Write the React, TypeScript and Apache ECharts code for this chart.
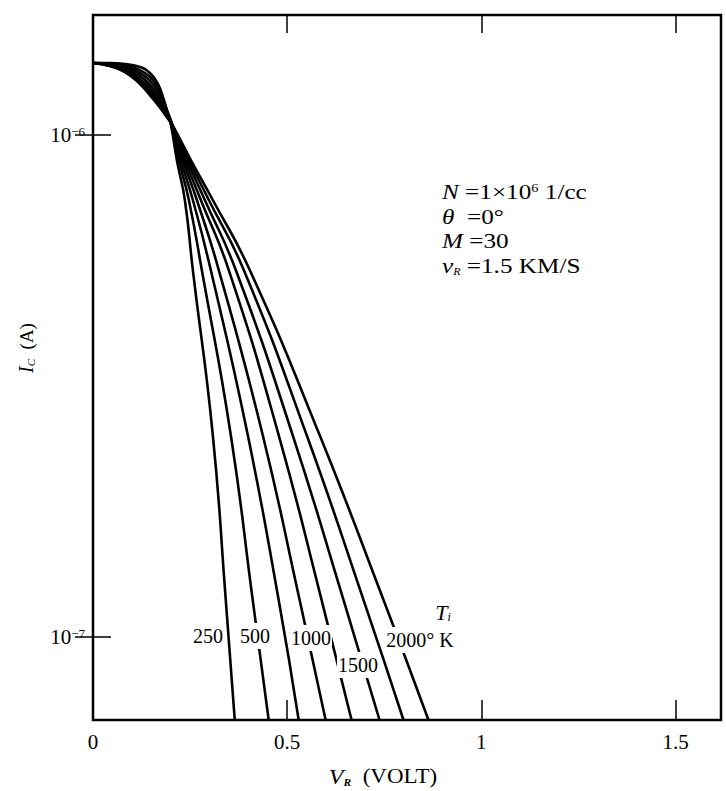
import React, { useEffect, useRef } from "react";
import * as echarts from "echarts";

// Temperatures (°K) of the eight curves
const temperatures = [250, 500, 750, 1000, 1250, 1500, 1750, 2000];

// [V_R (volt), I_C (A)]
const curve250 = [
  [0, 1.391e-6], [0.0437, 1.391e-6], [0.0823, 1.385e-6], [0.1208, 1.366e-6], [0.1465, 1.329e-6],
  [0.1671, 1.264e-6], [0.1825, 1.174e-6], [0.1928, 1.101e-6], [0.2005, 1.052e-6], [0.2159, 8.917e-7],
  [0.2365, 7.423e-7], [0.2571, 5.383e-7], [0.3085, 2.526e-7], [0.3419, 1.185e-7], [0.365, 6.837e-8],
];
const curve500 = [
  [0, 1.391e-6], [0.0437, 1.388e-6], [0.0823, 1.375e-6], [0.1208, 1.347e-6], [0.1465, 1.305e-6],
  [0.1671, 1.246e-6], [0.1825, 1.169e-6], [0.1928, 1.101e-6], [0.2005, 1.052e-6], [0.2211, 8.917e-7],
  [0.2468, 7.423e-7], [0.2802, 5.383e-7], [0.3548, 2.526e-7], [0.4113, 1.185e-7], [0.4524, 6.837e-8],
];
const curve750 = [
  [0, 1.391e-6], [0.0437, 1.385e-6], [0.0823, 1.366e-6], [0.1208, 1.329e-6], [0.1465, 1.281e-6],
  [0.1671, 1.224e-6], [0.1825, 1.158e-6], [0.1954, 1.096e-6], [0.2031, 1.052e-6], [0.2262, 8.917e-7],
  [0.2571, 7.423e-7], [0.3033, 5.383e-7], [0.3985, 2.526e-7], [0.4781, 1.185e-7], [0.5296, 6.837e-8],
];
const curve1000 = [
  [0, 1.391e-6], [0.0437, 1.382e-6], [0.0823, 1.36e-6], [0.1208, 1.311e-6], [0.1465, 1.258e-6],
  [0.1671, 1.201e-6], [0.1825, 1.148e-6], [0.1954, 1.091e-6], [0.2031, 1.052e-6], [0.2314, 8.917e-7],
  [0.2674, 7.423e-7], [0.3239, 5.383e-7], [0.437, 2.526e-7], [0.5321, 1.185e-7], [0.599, 6.837e-8],
];
const curve1250 = [
  [0, 1.391e-6], [0.0437, 1.378e-6], [0.0823, 1.351e-6], [0.1208, 1.293e-6], [0.1465, 1.24e-6],
  [0.1671, 1.185e-6], [0.1825, 1.137e-6], [0.1954, 1.086e-6], [0.2031, 1.052e-6], [0.2365, 8.917e-7],
  [0.2776, 7.423e-7], [0.3496, 5.383e-7], [0.4781, 2.526e-7], [0.5887, 1.185e-7], [0.6658, 6.837e-8],
];
const curve1500 = [
  [0, 1.391e-6], [0.0437, 1.375e-6], [0.0823, 1.344e-6], [0.1208, 1.281e-6], [0.1465, 1.224e-6],
  [0.1671, 1.174e-6], [0.1825, 1.127e-6], [0.1954, 1.081e-6], [0.2031, 1.052e-6], [0.2416, 8.917e-7],
  [0.2879, 7.423e-7], [0.3676, 5.383e-7], [0.5141, 2.526e-7], [0.6452, 1.185e-7], [0.7378, 6.837e-8],
];
const curve1750 = [
  [0, 1.391e-6], [0.0437, 1.372e-6], [0.0823, 1.338e-6], [0.1208, 1.269e-6], [0.1465, 1.213e-6],
  [0.1671, 1.158e-6], [0.1825, 1.116e-6], [0.1954, 1.076e-6], [0.2031, 1.052e-6], [0.2468, 8.917e-7],
  [0.2982, 7.423e-7], [0.3882, 5.383e-7], [0.5501, 2.526e-7], [0.6967, 1.185e-7], [0.7995, 6.837e-8],
];
const curve2000 = [
  [0, 1.391e-6], [0.0437, 1.372e-6], [0.0823, 1.335e-6], [0.1208, 1.264e-6], [0.1465, 1.201e-6],
  [0.1671, 1.148e-6], [0.1825, 1.106e-6], [0.1954, 1.071e-6], [0.2031, 1.052e-6], [0.2519, 8.917e-7],
  [0.3085, 7.423e-7], [0.4036, 5.383e-7], [0.5835, 2.526e-7], [0.7481, 1.185e-7], [0.8638, 6.837e-8],
];
const curves = [curve250, curve500, curve750, curve1000, curve1250, curve1500, curve1750, curve2000];

// Axes
const xMin = 0;
const xMax = 1.617;
const xTickValues = [0.5, 1, 1.5];
const xLabelValues = [0, 0.5, 1, 1.5];
const yMin = 6.837e-8;
const yMax = 1.734e-6;
const yTickValues = [1e-7, 1e-6];

// Texts
const curveLabels = ["250", "500", "1000", "1500", "2000° K"];
const paramLines = [
  "{i|N} =1×10{sup|6} 1/cc",
  "{i|θ}  =0°",
  "{i|M} =30",
  "{i|v}{sub|R} =1.5 KM/S",
];

const FONT = '"Liberation Serif", "DejaVu Serif", serif';

function supLabel(v: number) {
  const e = Math.round(Math.log10(v));
  return "{b|10}{s|" + "\u2212" + String(Math.abs(e)) + "}";
}

export default function App() {
  const ref = useRef<HTMLDivElement>(null);

  useEffect(() => {
    if (!ref.current) return;
    const chart = echarts.init(ref.current, undefined, { renderer: "svg" });

    const labelPos = [
      { x: 208, y: 636 },
      { x: 255, y: 636 },
      { x: 311, y: 638 },
      { x: 358, y: 665 },
      { x: 420, y: 640 },
    ];

    const graphic: any[] = [];
    curveLabels.forEach((t, i) => {
      graphic.push({
        type: "text",
        z: 100,
        x: labelPos[i].x,
        y: labelPos[i].y,
        style: {
          text: t,
          x: 0,
          y: 0,
          align: "center",
          verticalAlign: "middle",
          fontFamily: FONT,
          fontSize: 20,
          fill: "#000",
          backgroundColor: "#fff",
          padding: [3, 1, 3, 1],
        },
      });
    });
    graphic.push({
      type: "text",
      z: 100,
      x: 443,
      y: 612,
      style: {
        text: "{t|T}{sub|i}",
        x: 0,
        y: 0,
        align: "center",
        verticalAlign: "middle",
        rich: {
          t: { fontStyle: "italic", fontFamily: FONT, fontSize: 22, fill: "#000" },
          sub: { fontStyle: "italic", fontFamily: FONT, fontSize: 12, verticalAlign: "bottom", fill: "#000" },
        },
      },
    });
    paramLines.forEach((t, i) => {
      graphic.push({
        type: "text",
        z: 100,
        x: 442,
        y: 192 + i * 24.5,
        scaleX: 1.2,
        style: {
          text: t,
          x: 0,
          y: 0,
          align: "left",
          verticalAlign: "middle",
          fontFamily: FONT,
          fontSize: 21,
          fill: "#000",
          rich: {
            i: { fontStyle: "italic", fontFamily: FONT, fontSize: 21, fill: "#000" },
            sup: { fontFamily: FONT, fontSize: 12, verticalAlign: "top", fill: "#000" },
            sub: { fontStyle: "italic", fontFamily: FONT, fontSize: 10, verticalAlign: "bottom", fill: "#000" },
          },
        },
      });
    });
    // axis titles
    graphic.push({
      type: "text",
      z: 100,
      x: 26,
      y: 348,
      rotation: Math.PI / 2,
      style: {
        text: "{i|I}{sub|C}  (A)",
        x: 0,
        y: 0,
        align: "center",
        verticalAlign: "middle",
        fontFamily: FONT,
        fontSize: 19,
        fill: "#000",
        rich: {
          i: { fontStyle: "italic", fontFamily: FONT, fontSize: 20, fill: "#000" },
          sub: { fontStyle: "italic", fontFamily: FONT, fontSize: 11, verticalAlign: "bottom", fill: "#000" },
        },
      },
    });
    graphic.push({
      type: "text",
      z: 100,
      x: 383,
      y: 777,
      scaleX: 1.15,
      style: {
        text: "{i|V}{sub|R}  (VOLT)",
        x: 0,
        y: 0,
        align: "center",
        verticalAlign: "middle",
        fontFamily: FONT,
        fontSize: 20,
        fill: "#000",
        rich: {
          i: { fontStyle: "italic", fontFamily: FONT, fontSize: 21, fill: "#000" },
          sub: { fontStyle: "italic", fontWeight: "bold", fontFamily: FONT, fontSize: 10, verticalAlign: "bottom", fill: "#000" },
        },
      },
    });

    const tickStyle = { color: "#000", width: 1.5 };

    chart.setOption({
      animation: false,
      backgroundColor: "#fff",
      grid: {
        left: 93,
        right: 5,
        top: 15,
        bottom: 71,
        show: true,
        borderColor: "#000",
        borderWidth: 2.5,
        backgroundColor: "transparent",
      },
      xAxis: [
        {
          type: "value",
          position: "bottom",
          min: xMin,
          max: xMax,
          interval: 0.5,
          axisLine: { show: false },
          splitLine: { show: false },
          axisTick: { show: true, inside: true, length: 20, lineStyle: tickStyle, customValues: xTickValues },
          axisLabel: {
            show: true,
            color: "#000",
            fontFamily: FONT,
            fontSize: 21,
            margin: 11,
            customValues: xLabelValues,
            formatter: (v: number) => String(v),
          },
        },
        {
          type: "value",
          position: "top",
          min: xMin,
          max: xMax,
          interval: 0.5,
          axisLine: { show: false },
          splitLine: { show: false },
          axisTick: { show: true, inside: true, length: 18, lineStyle: tickStyle, customValues: xTickValues },
          axisLabel: { show: false },
        },
      ],
      yAxis: [
        {
          type: "log",
          logBase: 10,
          position: "left",
          min: yMin,
          max: yMax,
          axisLine: { show: false },
          splitLine: { show: false },
          minorTick: { show: false },
          axisTick: { show: true, inside: true, length: 18, lineStyle: tickStyle, customValues: yTickValues },
          axisLabel: {
            show: true,
            color: "#000",
            margin: 8,
            customValues: yTickValues,
            formatter: (v: number) => supLabel(v),
            rich: {
              b: { fontFamily: FONT, fontSize: 21, color: "#000" },
              s: { fontFamily: FONT, fontSize: 13, color: "#000", verticalAlign: "top" },
            },
          },
        },
        {
          type: "log",
          logBase: 10,
          position: "right",
          min: yMin,
          max: yMax,
          axisLine: { show: false },
          splitLine: { show: false },
          axisTick: { show: true, inside: true, length: 18, lineStyle: tickStyle, customValues: yTickValues },
          axisLabel: { show: false },
        },
      ],
      series: curves.map((data, i) => ({
        name: String(temperatures[i]),
        type: "line",
        xAxisIndex: 0,
        yAxisIndex: 0,
        data,
        symbol: "none",
        showSymbol: false,
        smooth: 0.5,
        clip: true,
        silent: true,
        lineStyle: { color: "#000", width: 2.6 },
        z: 5,
      })),
      graphic,
    });

    return () => {
      chart.dispose();
    };
  }, []);

  return (
    <div
      ref={ref}
      style={{ position: "fixed", left: 0, top: 0, width: 726, height: 791, background: "#fff" }}
    />
  );
}
